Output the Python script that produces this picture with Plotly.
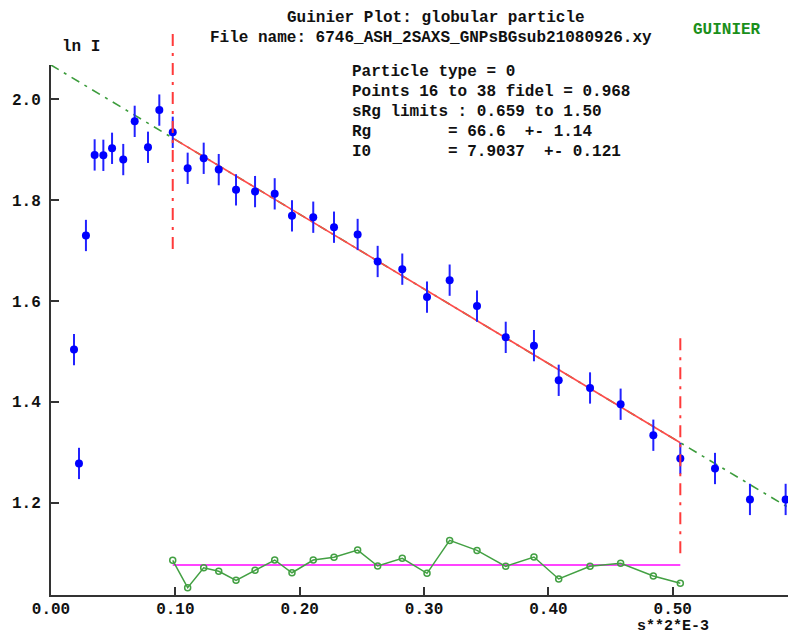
import math
import plotly.graph_objects as go

# ---------------- data ----------------
s2 = [0.0185, 0.0225, 0.0281, 0.0351, 0.0421, 0.0491, 0.0581, 0.0673, 0.0780, 0.0871,
      0.0979, 0.1099, 0.1228, 0.1349, 0.1488, 0.1641, 0.1799, 0.1938, 0.2109, 0.2276,
      0.2466, 0.2627, 0.2825, 0.3024, 0.3206, 0.3426, 0.3657, 0.3884, 0.4083, 0.4335,
      0.4581, 0.4844, 0.5061, 0.5340, 0.5621, 0.5908]
ln_i = [1.5035, 1.2780, 1.7296, 1.8892, 1.8884, 1.9023, 1.8800, 1.9557, 1.9043, 1.9780,
        1.9340, 1.8627, 1.8825, 1.8601, 1.8200, 1.8166, 1.8121, 1.7685, 1.7658, 1.7460,
        1.7316, 1.6781, 1.6629, 1.6075, 1.6411, 1.5897, 1.5278, 1.5114, 1.4427, 1.4275,
        1.3953, 1.3339, 1.2878, 1.2680, 1.2067, 1.2067]
ln_i_err = [0.031, 0.031, 0.031, 0.031, 0.031, 0.031, 0.031, 0.031, 0.031, 0.031,
            0.031, 0.031, 0.031, 0.031, 0.031, 0.031, 0.031, 0.031, 0.031, 0.031,
            0.031, 0.031, 0.031, 0.031, 0.031, 0.031, 0.031, 0.031, 0.031, 0.031,
            0.031, 0.031, 0.031, 0.031, 0.031, 0.031]
# residual trace (displayed around the baseline level), fit points 16..38
resid_plot = [1.0861, 1.0319, 1.0714, 1.0643, 1.0465, 1.0663, 1.0867, 1.0615, 1.0867, 1.0920,
              1.1064, 1.0748, 1.0900, 1.0603, 1.1256, 1.1058, 1.0742, 1.0926, 1.0491, 1.0742,
              1.0801, 1.0550, 1.0405]
resid_base = 1.0768

fit_first, fit_last = 10, 32          # indices of points 16 and 38 in the shown data
I0 = 7.9037
Rg = 66.6
left_cut_span = [1.703, 2.139]
right_cut_span = [1.100, 1.540]

x_range = [0.0, 0.5927]
y_range = [1.0174, math.log(I0)]

x_ticks = [0.0, 0.1, 0.2, 0.3, 0.4, 0.5]
y_ticks = [1.2, 1.4, 1.6, 1.8, 2.0]

info_lines = [
    "Particle type = 0",
    "Points 16 to 38 fidel = 0.968",
    "sRg limits : 0.659 to 1.50",
    "Rg        = 66.6  +- 1.14",
    "I0        = 7.9037  +- 0.121",
]

# ---------------- derived ----------------
ln_I0 = math.log(I0)
slope = -Rg ** 2 / 3.0 * 1e-3


def fit(x):
    return ln_I0 + slope * x


x_lo = s2[fit_first]
x_hi = s2[fit_last]
fit_x = s2[fit_first:fit_last + 1]

FONT = "Liberation Mono"
fnt = dict(family=FONT, size=16, color="#111111", weight="bold")

fig = go.Figure()

# green dashed extrapolation of the Guinier line
fig.add_trace(go.Scatter(x=[x_range[0], x_range[1]], y=[fit(x_range[0]), fit(x_range[1])],
                         mode="lines", line=dict(color="#3c9c3c", width=1.6, dash="9px,6px,3px,6px"),
                         hoverinfo="skip", showlegend=False))
# red fit line
fig.add_trace(go.Scatter(x=[x_lo, x_hi], y=[fit(x_lo), fit(x_hi)], mode="lines",
                         line=dict(color="#ff4a4a", width=1.6), hoverinfo="skip", showlegend=False))
# residual baseline
fig.add_trace(go.Scatter(x=[x_lo, x_hi], y=[resid_base, resid_base], mode="lines",
                         line=dict(color="#ff44ff", width=2), hoverinfo="skip", showlegend=False))
# residuals
fig.add_trace(go.Scatter(x=fit_x, y=resid_plot, mode="lines+markers",
                         line=dict(color="#43a043", width=1.5),
                         marker=dict(symbol="circle-open", size=6, color="#43a043", line=dict(width=1.5)),
                         showlegend=False))
# data
fig.add_trace(go.Scatter(x=s2, y=ln_i, mode="markers",
                         marker=dict(color="#0000ff", size=8),
                         error_y=dict(type="data", array=ln_i_err, color="#2222ff", thickness=2, width=0),
                         cliponaxis=False, showlegend=False))

# vertical cut lines (dash-dot), drawn in paper coords so they may exceed the axis top


def px(x):
    return (x - x_range[0]) / (x_range[1] - x_range[0])


def py(y):
    return (y - y_range[0]) / (y_range[1] - y_range[0])


for xv, span in ((x_lo, left_cut_span), (x_hi, right_cut_span)):
    fig.add_shape(type="line", xref="paper", yref="paper", x0=px(xv), x1=px(xv),
                  y0=py(span[0]), y1=py(span[1]),
                  line=dict(color="#ff3a3a", width=2, dash="12px,7px,3px,7px"))

W, H = 788, 634
L, R, T, B = 51, 0, 65, 39
pw, ph = W - L - R, H - T - B


def ppx(pixel_x):
    return (pixel_x - L) / pw


def ppy(pixel_y):
    return (H - B - pixel_y) / ph


ann = []
ann.append(dict(text="Guinier Plot: globular particle", x=ppx(436), y=ppy(18), xanchor="center", yanchor="middle"))
ann.append(dict(text="File name: 6746_ASH_2SAXS_GNPsBGsub21080926.xy", x=ppx(431), y=ppy(38),
                xanchor="center", yanchor="middle"))
ann.append(dict(text="ln I", x=ppx(60), y=ppy(47), xanchor="left", yanchor="middle"))
ann.append(dict(text="GUINIER", x=ppx(691), y=ppy(30), xanchor="left", yanchor="middle",
                font=dict(family=FONT, size=16, color="#1a8f1a", weight="bold")))
for i, line in enumerate(info_lines):
    ann.append(dict(text=line.replace(" ", "\u00a0"), x=ppx(350), y=ppy(72 + i * 20.1),
                    xanchor="left", yanchor="middle"))
ann.append(dict(text="s**2*E-3", x=ppx(673), y=ppy(626.5), xanchor="center", yanchor="middle",
                font=dict(family=FONT, size=15, color="#111111", weight="bold")))
for a in ann:
    a.update(xref="paper", yref="paper", showarrow=False)
    a.setdefault("font", fnt)

axis_common = dict(showline=True, linecolor="#333333", linewidth=2, ticks="inside", ticklen=8,
                   tickwidth=2, tickcolor="#333333", showgrid=False, zeroline=False,
                   tickfont=dict(family=FONT, size=16, color="#111111", weight="bold"), mirror=False)

fig.update_layout(
    width=W, height=H, margin=dict(l=L, r=R, t=T, b=B, pad=0),
    paper_bgcolor="white", plot_bgcolor="white",
    xaxis=dict(range=x_range, tickvals=x_ticks, tickformat=".2f", ticklabelstandoff=-2, **axis_common),
    yaxis=dict(range=y_range, tickvals=y_ticks, tickformat=".1f", ticklabelstandoff=5, **axis_common),
    annotations=ann, showlegend=False,
)

fig.write_html("out.html")
